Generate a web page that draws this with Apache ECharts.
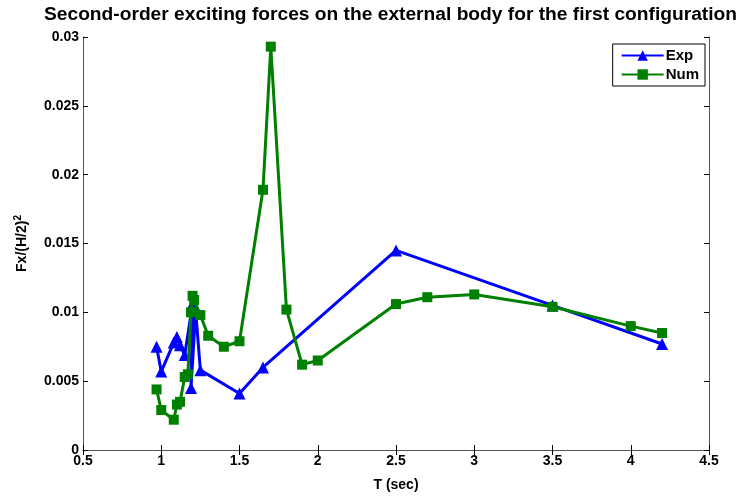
<!DOCTYPE html>
<html>
<head>
<meta charset="utf-8">
<script src="https://cdn.jsdelivr.net/npm/echarts@6/dist/echarts.min.js"></script>
<style>html,body{margin:0;padding:0;background:#fff}#c{width:737px;height:497px}</style>
</head>
<body>
<div id="c"></div>
<script>
var titleText = 'Second-order exciting forces on the external body for the first configuration';
var xName = 'T (sec)';
var seriesNames = ['Exp', 'Num'];
var expT = [0.97, 1.0, 1.08, 1.1, 1.12, 1.15, 1.2, 1.19, 1.22, 1.25, 1.5, 1.65, 2.5, 3.5, 4.2];
var expF = [0.0075, 0.0057, 0.0078, 0.0082, 0.0076, 0.0069, 0.0106, 0.0045, 0.0101, 0.0058, 0.0041, 0.0060, 0.0145, 0.0105, 0.0077];
var numT = [0.97, 1.0, 1.08, 1.1, 1.12, 1.15, 1.17, 1.19, 1.2, 1.21, 1.25, 1.3, 1.4, 1.5, 1.65, 1.7, 1.8, 1.9, 2.0, 2.5, 2.7, 3.0, 3.5, 4.0, 4.2];
var numF = [0.0044, 0.0029, 0.0022, 0.0033, 0.0035, 0.0053, 0.0055, 0.0100, 0.0112, 0.0109, 0.0098, 0.0083, 0.0075, 0.0079, 0.0189, 0.0293, 0.0102, 0.0062, 0.0065, 0.0106, 0.0111, 0.0113, 0.0104, 0.0090, 0.0085];

function pairs(xs, ys) { return xs.map(function (x, i) { return [x, ys[i]]; }); }

var FONT = 'Liberation Sans, Arial, sans-serif';
var chart = echarts.init(document.getElementById('c'));
var lblStyle = { color: '#000', fontFamily: FONT, fontWeight: 'bold', fontSize: 14 };
var hiddenAxisCommon = {
  axisLabel: { show: false },
  axisLine: { show: true, lineStyle: { color: '#555', width: 1 } },
  axisTick: { show: true, inside: true, length: 5, lineStyle: { color: '#000' } },
  splitLine: { show: false }
};
chart.setOption({
  animation: false,
  backgroundColor: '#fff',
  title: {
    text: titleText,
    left: 39, top: 0,
    textStyle: { fontFamily: FONT, fontWeight: 'bold', fontSize: 19.2, color: '#000' }
  },
  grid: { left: 83, right: 28, top: 37, bottom: 45, containLabel: false },
  legend: {
    data: seriesNames,
    orient: 'vertical',
    right: 32, top: 44,
    backgroundColor: '#fff',
    borderColor: '#000', borderWidth: 1,
    padding: [4, 6, 4, 8],
    itemGap: 4,
    itemWidth: 42, itemHeight: 13,
    textStyle: { fontFamily: FONT, fontWeight: 'bold', fontSize: 15, color: '#000', padding: [0, 0, 0, -3] }
  },
  xAxis: [{
    type: 'value', min: 0.5, max: 4.5, interval: 0.5,
    name: xName, nameLocation: 'middle', nameGap: 28,
    nameTextStyle: lblStyle,
    axisLabel: Object.assign({ margin: 4 }, lblStyle),
    axisLine: { show: true, onZero: false, lineStyle: { color: '#555', width: 1 } },
    axisTick: { show: true, inside: true, length: 5, lineStyle: { color: '#000' } },
    splitLine: { show: false }
  }, Object.assign({ type: 'value', min: 0.5, max: 4.5, interval: 0.5, position: 'top' }, hiddenAxisCommon)],
  yAxis: [{
    type: 'value', min: 0, max: 0.03, interval: 0.005,
    name: '{a|Fx/(H/2)}{s|2}', nameLocation: 'middle', nameGap: 52, nameRotate: 90,
    nameTextStyle: {
      rich: {
        a: { fontFamily: FONT, fontWeight: 'bold', fontSize: 14, color: '#000' },
        s: { fontFamily: FONT, fontWeight: 'bold', fontSize: 10, color: '#000', verticalAlign: 'top', padding: [0, 0, 8, 0] }
      }
    },
    axisLabel: Object.assign({ margin: 4, formatter: function (v) { return String(+v.toFixed(3)); } }, lblStyle),
    axisLine: { show: true, onZero: false, lineStyle: { color: '#555', width: 1 } },
    axisTick: { show: true, inside: true, length: 5, lineStyle: { color: '#000' } },
    splitLine: { show: false }
  }, Object.assign({ type: 'value', min: 0, max: 0.03, interval: 0.005, position: 'right' }, hiddenAxisCommon)],
  series: [{
    name: seriesNames[0], type: 'line',
    data: pairs(expT, expF),
    symbol: 'triangle', symbolSize: 12,
    lineStyle: { color: '#0000ff', width: 3 },
    itemStyle: { color: '#0000ff' },
    z: 2
  }, {
    name: seriesNames[1], type: 'line',
    data: pairs(numT, numF),
    symbol: 'rect', symbolSize: 10,
    lineStyle: { color: '#008000', width: 3 },
    itemStyle: { color: '#008000' },
    z: 3
  }]
});
</script>
</body>
</html>
